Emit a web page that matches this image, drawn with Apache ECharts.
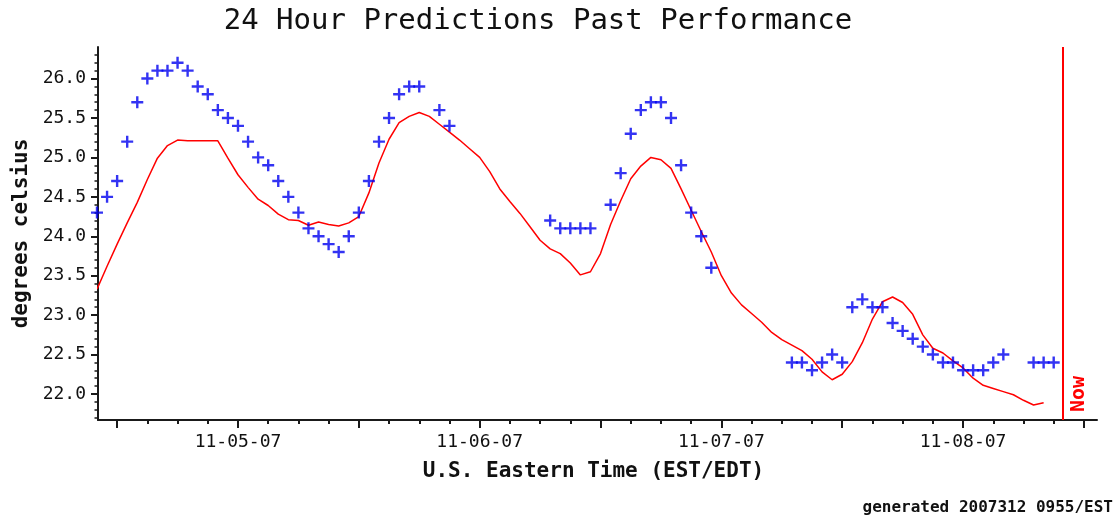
<!DOCTYPE html>
<html>
<head>
<meta charset="utf-8">
<title>24 Hour Predictions Past Performance</title>
<script src="https://cdn.jsdelivr.net/npm/echarts@6/dist/echarts.min.js"></script>
<style>
  html, body { margin: 0; padding: 0; background: #fff; }
  #main { width: 1114px; height: 519px; }
</style>
</head>
<body>
<div id="main"></div>
<script>
// hours are counted from 11-04-07 00:00 EST
const obsStartHour = 10
const observed = [
  24.3, 24.5, 24.7, 25.2, 25.7, 26.0, 26.1, 26.1, 26.2, 26.1,   // 10-19
  25.9, 25.8, 25.6, 25.5, 25.4, 25.2, 25.0, 24.9, 24.7, 24.5,   // 20-29
  24.3, 24.1, 24.0, 23.9, 23.8, 24.0, 24.3, 24.7, 25.2, 25.5,   // 30-39
  25.8, 25.9, 25.9, null, 25.6, 25.4, null, null, null, null,   // 40-49
  null, null, null, null, null, 24.2, 24.1, 24.1, 24.1, 24.1,   // 50-59
  null, 24.4, 24.8, 25.3, 25.6, 25.7, 25.7, 25.5, 24.9, 24.3,   // 60-69
  24.0, 23.6, null, null, null, null, null, null, null, 22.4,   // 70-79
  22.4, 22.3, 22.4, 22.5, 22.4, 23.1, 23.2, 23.1, 23.1, 22.9,   // 80-89
  22.8, 22.7, 22.6, 22.5, 22.4, 22.4, 22.3, 22.3, 22.3, 22.4,   // 90-99
  22.5, null, null, 22.4, 22.4, 22.4                            // 100-105
]

const predStartHour = 10
const predicted = [
  23.33, 23.62, 23.90, 24.17, 24.43, 24.72, 24.99, 25.15, 25.22, 25.21, // 10-19
  25.21, 25.21, 25.21, 24.99, 24.78, 24.62, 24.47, 24.39, 24.28, 24.21, // 20-29
  24.20, 24.14, 24.18, 24.15, 24.13, 24.17, 24.25, 24.55, 24.93, 25.23, // 30-39
  25.44, 25.52, 25.57, 25.52, 25.42, 25.32, 25.22, 25.11, 25.00, 24.82, // 40-49
  24.60, 24.44, 24.29, 24.12, 23.95, 23.84, 23.78, 23.66, 23.51, 23.55, // 50-59
  23.78, 24.15, 24.45, 24.73, 24.89, 25.00, 24.97, 24.86, 24.60, 24.33, // 60-69
  24.06, 23.80, 23.50, 23.28, 23.13, 23.02, 22.91, 22.78, 22.69, 22.62, // 70-79
  22.55, 22.44, 22.28, 22.18, 22.25, 22.41, 22.65, 22.95, 23.17, 23.23, // 80-89
  23.16, 23.01, 22.75, 22.58, 22.52, 22.42, 22.33, 22.20, 22.11, 22.07, // 90-99
  22.03, 21.99, 21.92, 21.86, 21.89                                     // 100-104
]

const nowHour = 105.92
const dayHours = [24, 48, 72, 96]
const dayLabels = ['11-05-07', '11-06-07', '11-07-07', '11-08-07']
const majorXTicks = [12, 24, 36, 48, 60, 72, 84, 96, 108]
const minorXTicks = [12, 15, 18, 21, 24, 27, 30, 33, 36, 39, 42, 45, 48, 51, 54, 57, 60,
  63, 66, 69, 72, 75, 78, 81, 84, 87, 90, 93, 96, 99, 102, 105, 108]
const yLabelValues = [22.0, 22.5, 23.0, 23.5, 24.0, 24.5, 25.0, 25.5, 26.0]
const minorYTicks = [21.7, 21.8, 21.9, 22.0, 22.1, 22.2, 22.3, 22.4, 22.5, 22.6, 22.7, 22.8,
  22.9, 23.0, 23.1, 23.2, 23.3, 23.4, 23.5, 23.6, 23.7, 23.8, 23.9, 24.0, 24.1, 24.2, 24.3,
  24.4, 24.5, 24.6, 24.7, 24.8, 24.9, 25.0, 25.1, 25.2, 25.3, 25.4, 25.5, 25.6, 25.7, 25.8,
  25.9, 26.0, 26.1, 26.2, 26.3]

const FONT = 'DejaVu Sans Mono'
const AXIS_COLOR = '#1a1a1a'
const X_MIN = 10.1
const X_MAX = 109.3
const Y_MIN = 21.67
const Y_MAX = 26.4

let obsData = []
observed.forEach((v, i) => {
  if (v !== null) { obsData.push([obsStartHour + i, v]) }
})
let predData = predicted.map((v, i) => [predStartHour + i, v])

let chart = echarts.init(document.getElementById('main'))

let option = {
  backgroundColor: '#fff',
  animation: false,
  title: {
    text: '24 Hour Predictions Past Performance',
    left: 533,
    top: 2,
    textAlign: 'center',
    textStyle: {
      fontFamily: FONT,
      fontSize: 29,
      fontWeight: 'normal',
      color: '#111'
    }
  },
  grid: {
    left: 98,
    right: 17,
    top: 47,
    bottom: 99
  },
  xAxis: [
    {
      type: 'value',
      min: X_MIN,
      max: X_MAX,
      name: 'U.S. Eastern Time (EST/EDT)',
      nameLocation: 'middle',
      nameGap: 41,
      nameTextStyle: {
        fontFamily: FONT,
        fontSize: 21,
        fontWeight: 'bold',
        color: '#111',
        padding: [0, 8, 0, 0]
      },
      axisLine: { show: true, onZero: false, lineStyle: { color: AXIS_COLOR, width: 2 } },
      axisTick: {
        show: true,
        length: 8,
        customValues: majorXTicks,
        lineStyle: { color: AXIS_COLOR, width: 2 }
      },
      axisLabel: {
        customValues: dayHours,
        margin: 13,
        fontFamily: FONT,
        fontSize: 18,
        color: '#111',
        formatter: function (val) {
          let idx = dayHours.indexOf(Math.round(val))
          return idx >= 0 ? dayLabels[idx] : ''
        }
      },
      splitLine: { show: false }
    },
    {
      type: 'value',
      min: X_MIN,
      max: X_MAX,
      position: 'bottom',
      axisLine: { show: false, onZero: false },
      axisTick: {
        show: true,
        length: 4,
        customValues: minorXTicks,
        lineStyle: { color: AXIS_COLOR, width: 2 }
      },
      axisLabel: { show: false },
      splitLine: { show: false }
    }
  ],
  yAxis: [
    {
      type: 'value',
      min: Y_MIN,
      max: Y_MAX,
      name: 'degrees celsius',
      nameLocation: 'middle',
      nameGap: 64,
      nameTextStyle: {
        fontFamily: FONT,
        fontSize: 21,
        fontWeight: 'bold',
        color: '#111'
      },
      axisLine: { show: true, onZero: false, lineStyle: { color: AXIS_COLOR, width: 2 } },
      axisTick: {
        show: true,
        length: 7,
        customValues: yLabelValues,
        lineStyle: { color: AXIS_COLOR, width: 2 }
      },
      axisLabel: {
        customValues: yLabelValues,
        margin: 12,
        fontFamily: FONT,
        fontSize: 18,
        color: '#111',
        formatter: function (val) {
          return val.toFixed(1)
        }
      },
      splitLine: { show: false }
    },
    {
      type: 'value',
      min: Y_MIN,
      max: Y_MAX,
      position: 'left',
      axisLine: { show: false, onZero: false },
      axisTick: {
        show: true,
        length: 3.5,
        customValues: minorYTicks,
        lineStyle: { color: AXIS_COLOR, width: 1.5 }
      },
      axisLabel: { show: false },
      splitLine: { show: false }
    }
  ],
  series: [
    {
      name: 'predicted',
      type: 'line',
      xAxisIndex: 0,
      yAxisIndex: 0,
      data: predData,
      showSymbol: false,
      symbol: 'none',
      lineStyle: { color: '#ff0000', width: 1.5 },
      z: 2,
      markLine: {
        silent: true,
        symbol: 'none',
        lineStyle: { color: '#ff0000', width: 2, type: 'solid' },
        label: {
          show: true,
          position: 'insideStartBottom',
          formatter: 'Now',
          distance: 6,
          padding: [0, 0, 0, 2],
          fontFamily: FONT,
          fontSize: 20,
          fontWeight: 'bold',
          color: '#ff0000'
        },
        data: [{ xAxis: nowHour }]
      }
    },
    {
      name: 'observed',
      type: 'scatter',
      xAxisIndex: 0,
      yAxisIndex: 0,
      data: obsData,
      clip: false,
      symbol: 'path://M4,0H6V4H10V6H6V10H4V6H0V4H4Z',
      symbolSize: 12,
      itemStyle: { color: '#0000f0' },
      z: 3
    }
  ],
  graphic: [
    {
      type: 'text',
      right: 1,
      bottom: 3,
      style: {
        text: 'generated 2007312 0955/EST',
        fontFamily: FONT,
        fontSize: 16,
        fontWeight: 'bold',
        fill: '#111'
      }
    }
  ]
}

chart.setOption(option)
</script>
</body>
</html>
